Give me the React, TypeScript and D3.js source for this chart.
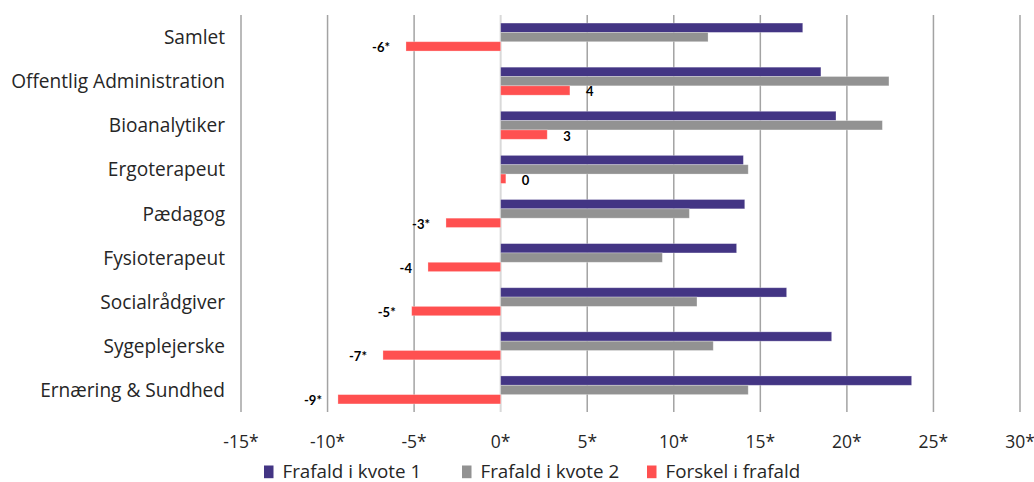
import React from "react";
import * as d3 from "d3";

const categories = [
  "Samlet",
  "Offentlig Administration",
  "Bioanalytiker",
  "Ergoterapeut",
  "Pædagog",
  "Fysioterapeut",
  "Socialrådgiver",
  "Sygeplejerske",
  "Ernæring & Sundhed",
];
const kvote1 = [17.45, 18.5, 19.37, 14.02, 14.1, 13.63, 16.52, 19.12, 23.74];
const kvote2 = [11.98, 22.43, 22.05, 14.3, 10.9, 9.34, 11.34, 12.28, 14.3];
const forskel = [-5.47, 4.0, 2.69, 0.3, -3.16, -4.2, -5.14, -6.8, -9.4];
const forskelLabels = ["-6*", "4", "3", "0", "-3*", "-4", "-5*", "-7*", "-9*"];
const xTicks = [-15, -10, -5, 0, 5, 10, 15, 20, 25, 30];
const tickLabels = xTicks.map((t) => `${t}*`);
const seriesNames = ["Frafald i kvote 1", "Frafald i kvote 2", "Forskel i frafald"];
const seriesColors = ["#433584", "#929292", "#ff5050"];

const W = 1034;
const H = 482;
const FONT = "'Open Sans', Lato, sans-serif";

export default function App() {
  const x = d3.scaleLinear().domain([-15, 30]).range([241, 1020]);
  const y = d3.scaleBand<string>().domain(categories).range([15, 412]).padding(0);
  const barH = 9.33;
  const series = [kvote1, kvote2, forskel];
  const legendX = [264, 462, 647];

  return (
    <svg
      width={W}
      height={H}
      style={{ position: "absolute", left: 0, top: 0, background: "#fff" }}
      fontFamily={FONT}
    >
      {/* gridlines */}
      {xTicks.map((t) =>
        t === 0 ? null : (
          <line
            key={t}
            x1={x(t)}
            x2={x(t)}
            y1={15}
            y2={412}
            stroke="#a3a3a3"
            strokeWidth={1.5}
          />
        )
      )}
      <line x1={x(0)} x2={x(0)} y1={15} y2={412} stroke="#d9d9d9" strokeWidth={2} />

      {/* bars */}
      {categories.map((c, i) => {
        const cy = (y(c) as number) + y.bandwidth() / 2;
        const top = cy - (barH * 3) / 2;
        return (
          <g key={c}>
            {series.map((s, k) => {
              const v = s[i];
              const x0 = x(Math.min(0, v));
              const x1 = x(Math.max(0, v));
              return (
                <rect
                  key={k}
                  x={x0}
                  y={top + k * barH}
                  width={Math.max(0, x1 - x0)}
                  height={barH}
                  fill={seriesColors[k]}
                  stroke="#ffffff"
                  strokeOpacity={0.35}
                  strokeWidth={0.8}
                />
              );
            })}
            {(() => {
              const v = forskel[i];
              const ry = top + 2 * barH + barH / 2;
              const neg = v < 0;
              return (
                <text
                  x={neg ? x(v) - 16 : x(v) + 16}
                  y={ry + 6}
                  textAnchor={neg ? "end" : "start"}
                  fontSize={13}
                  fontWeight="bold"
                  fontFamily="Lato, sans-serif"
                  fill="#000"
                >
                  {forskelLabels[i]}
                </text>
              );
            })()}
            <text
              x={225}
              y={cy + 7}
              textAnchor="end"
              fontSize={19.1}
              fill="#262626"
            >
              {c}
            </text>
          </g>
        );
      })}

      {/* x tick labels */}
      {xTicks.map((t, i) => (
        <text
          key={t}
          x={x(t)}
          y={448}
          textAnchor="middle"
          fontSize={17.5}
          fill="#262626"
        >
          {tickLabels[i]}
        </text>
      ))}

      {/* legend */}
      {seriesNames.map((n, k) => (
        <g key={n}>
          <rect x={legendX[k]} y={465.5} width={9.5} height={12.7} fill={seriesColors[k]} />
          <text x={legendX[k] + 18.5} y={477.5} fontSize={18.8} fill="#262626">
            {n}
          </text>
        </g>
      ))}
    </svg>
  );
}
